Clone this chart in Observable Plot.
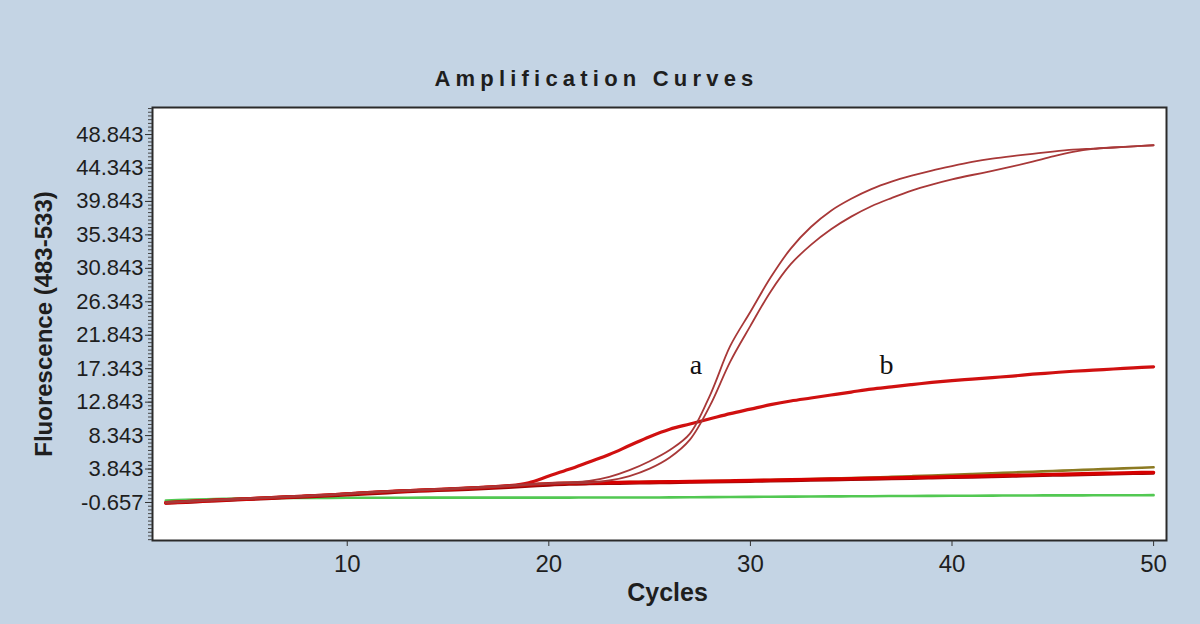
<!DOCTYPE html>
<html><head><meta charset="utf-8">
<script src="https://cdn.jsdelivr.net/npm/d3@7"></script>
<script src="https://cdn.jsdelivr.net/npm/@observablehq/plot@0.6"></script>
<style>
html,body{margin:0;padding:0;background:#c4d4e4;}
#chart{width:1200px;height:624px;}
</style></head><body><div id="chart"></div>
<script>
const cycles = [1,2,3,4,5,6,7,8,9,10,11,12,13,14,15,16,17,18,19,20,21,22,23,24,25,26,27,28,29,30,31,32,33,34,35,36,37,38,39,40,41,42,43,44,45,46,47,48,49,50];

const negRed = [-0.70,-0.56,-0.42,-0.30,-0.18,-0.05,0.08,0.20,0.33,0.50,0.66,0.80,0.92,1.03,1.14,1.26,1.40,1.55,1.72,1.88,1.95,2.00,2.03,2.06,2.10,2.13,2.17,2.21,2.25,2.30,2.35,2.40,2.45,2.50,2.55,2.60,2.65,2.70,2.76,2.82,2.88,2.94,3.00,3.06,3.12,3.18,3.24,3.30,3.35,3.40];
const negDark = [-0.78,-0.66,-0.52,-0.40,-0.28,-0.16,-0.04,0.08,0.20,0.34,0.48,0.62,0.76,0.88,0.98,1.08,1.20,1.34,1.50,1.66,1.78,1.84,1.88,1.92,1.96,2.00,2.04,2.08,2.12,2.16,2.21,2.26,2.31,2.36,2.41,2.46,2.51,2.56,2.62,2.68,2.74,2.80,2.86,2.92,2.98,3.04,3.10,3.16,3.22,3.28];
const negOlive = [-0.65,-0.50,-0.38,-0.26,-0.14,-0.02,0.10,0.22,0.36,0.52,0.68,0.82,0.94,1.05,1.16,1.28,1.42,1.57,1.74,1.90,1.97,2.02,2.05,2.08,2.12,2.15,2.19,2.23,2.27,2.32,2.37,2.43,2.49,2.55,2.62,2.70,2.79,2.88,2.98,3.08,3.18,3.28,3.38,3.48,3.58,3.68,3.78,3.88,3.98,4.08];
const negGreen = [-0.40,-0.30,-0.22,-0.15,-0.10,-0.07,-0.05,-0.04,-0.03,-0.02,-0.02,-0.01,-0.01,0.00,0.00,0.00,0.00,0.00,0.00,0.00,0.00,0.01,0.01,0.02,0.02,0.03,0.04,0.06,0.08,0.10,0.12,0.13,0.15,0.16,0.18,0.19,0.21,0.22,0.24,0.25,0.26,0.27,0.28,0.29,0.30,0.30,0.31,0.32,0.32,0.33];
const sampleB = [-0.68,-0.54,-0.40,-0.28,-0.16,-0.03,0.10,0.22,0.35,0.52,0.68,0.82,0.94,1.05,1.16,1.28,1.42,1.60,2.00,2.90,3.80,4.80,5.80,7.00,8.20,9.20,9.90,10.60,11.30,11.90,12.50,13.00,13.40,13.80,14.20,14.60,14.90,15.20,15.50,15.75,15.95,16.15,16.35,16.60,16.80,17.00,17.15,17.30,17.45,17.60];
const sampleA1 = [-0.62,-0.48,-0.34,-0.22,-0.10,0.03,0.16,0.28,0.41,0.58,0.74,0.88,1.00,1.11,1.22,1.34,1.48,1.63,1.80,1.96,2.05,2.25,2.80,3.70,4.90,6.40,8.60,13.80,20.40,25.00,29.60,33.50,36.40,38.60,40.20,41.50,42.50,43.30,44.00,44.60,45.15,45.60,45.95,46.25,46.55,46.80,46.95,47.10,47.25,47.40];
const sampleA2 = [-0.72,-0.58,-0.44,-0.32,-0.20,-0.07,0.06,0.18,0.31,0.48,0.64,0.78,0.90,1.01,1.12,1.24,1.38,1.53,1.70,1.86,1.94,2.00,2.30,2.90,3.90,5.40,7.80,12.40,18.30,23.10,27.70,31.40,34.00,36.10,37.80,39.20,40.30,41.30,42.10,42.80,43.40,43.95,44.55,45.20,45.90,46.50,46.90,47.10,47.25,47.40];

const yTicks = [-0.657,3.843,8.343,12.843,17.343,21.843,26.343,30.843,35.343,39.843,44.343,48.843];
const yTickLabels = ["-0.657","3.843","8.343","12.843","17.343","21.843","26.343","30.843","35.343","39.843","44.343","48.843"];
const xTicks = [10,20,30,40,50];
const annotations = [{label:"a", cycle:27.3, value:17.8},{label:"b", cycle:36.75, value:17.8}];

const titleText = "Amplification Curves";
const xLabel = "Cycles";
const yLabel = "Fluorescence (483-533)";

// styles (separate from data)
const seriesDefs = [
  {values: negGreen, stroke:"#52c852", width:2.6},
  {values: negDark, stroke:"#9a0808", width:2.8},
  {values: negOlive, stroke:"#8c7a22", width:2.6},
  {values: negRed, stroke:"#d60000", width:3.4},
  {values: sampleB, stroke:"#d01010", width:3.2},
  {values: sampleA2, stroke:"#a83838", width:1.8},
  {values: sampleA1, stroke:"#a83838", width:1.8}
];

const minorTicks = [];
for (let k = -10; k <= 106; k++) minorTicks.push(-0.657 + k*0.5);

const lineMarks = seriesDefs.map(s =>
  Plot.line(cycles.map((c,i)=>({cycle:c, value:s.values[i]})),
    {x:"cycle", y:"value", stroke:s.stroke, strokeWidth:s.width, curve:"catmull-rom"}));

const chart = Plot.plot({
  width:1200, height:624,
  marginLeft:152, marginRight:34, marginTop:107, marginBottom:84,
  style:{background:"#c4d4e4", fontFamily:"'Liberation Sans', Arial, sans-serif", color:"#1e1e1e", overflow:"visible"},
  x:{domain:[0.34,50.64]},
  y:{domain:[-5.77,52.48]},
  marks:[
    Plot.frame({fill:"white", stroke:null}),
    ...lineMarks,
    Plot.frame({stroke:"#2a2a2a", strokeWidth:2}),
    Plot.axisY({ticks:minorTicks.filter(v=>v>-5.77 && v<52.48), tickSize:4, tickFormat:()=>"", label:null, stroke:"#444"}),
    Plot.axisY({ticks:yTicks, tickSize:7, tickPadding:2, fontSize:22, label:null, stroke:"#333",
      tickFormat:(d)=>yTickLabels[yTicks.indexOf(d)]}),
    Plot.axisX({ticks:xTicks, tickSize:6, tickPadding:8, fontSize:24, label:null, stroke:"#333"}),
    Plot.text([xLabel], {frameAnchor:"bottom", dy:60, dx:8, fontSize:25, fontWeight:"bold"}),
    Plot.text([yLabel], {frameAnchor:"left", textAnchor:"middle", dx:-108, rotate:-90, fontSize:24, fontWeight:"bold"}),
    Plot.text([titleText], {frameAnchor:"top", dy:-37, dx:-63, fontSize:22, fontWeight:"bold"}),
    Plot.text(annotations, {x:"cycle", y:"value", text:"label", fontSize:28, fontFamily:"'Liberation Serif', 'DejaVu Serif', serif", fill:"#111"})
  ]
});
document.getElementById("chart").appendChild(chart);
d3.select(chart).selectAll("text").filter(function(){return this.textContent===titleText;})
  .attr("letter-spacing","5.2px");
</script>
</body></html>
